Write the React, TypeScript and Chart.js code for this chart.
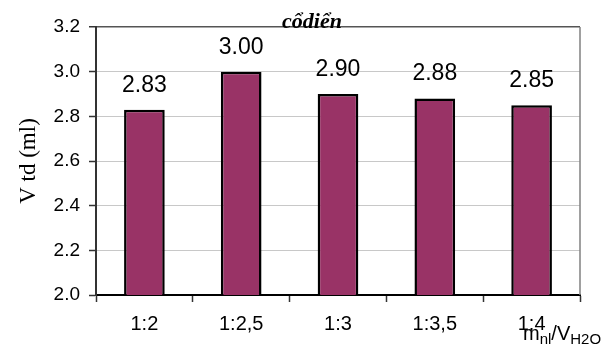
import React, { useEffect, useRef } from "react";
import { Chart, registerables } from "chart.js";

Chart.register(...registerables);

const categories = ["1:2", "1:2,5", "1:3", "1:3,5", "1:4"];
const values = [2.83, 3.0, 2.9, 2.88, 2.85];
const yTicks = [2.0, 2.2, 2.4, 2.6, 2.8, 3.0, 3.2];
const chartTitle = "cổdiển";
const yTitle = "V td (ml)";

const overlay = {
  id: "overlay",
  afterDraw(chart: any) {
    const { ctx, chartArea } = chart;
    ctx.save();
    // right border
    ctx.strokeStyle = "#808080";
    ctx.lineWidth = 1.5;
    ctx.beginPath();
    ctx.moveTo(chartArea.right, chartArea.top);
    ctx.lineTo(chartArea.right, chartArea.bottom);
    ctx.stroke();

    // data labels
    const meta = chart.getDatasetMeta(0);
    ctx.fillStyle = "#000";
    ctx.font = "23px 'Liberation Sans', Arial, sans-serif";
    ctx.textAlign = "center";
    ctx.textBaseline = "alphabetic";
    meta.data.forEach((bar: any, i: number) => {
      ctx.fillText(values[i].toFixed(2), bar.x, bar.y - 18);
    });

    // title
    ctx.font = "italic bold 22px 'Liberation Serif', 'Times New Roman', serif";
    ctx.fillText(chartTitle, 312, 28);

    // y title
    ctx.save();
    ctx.translate(29, (chartArea.top + chartArea.bottom) / 2);
    ctx.rotate(-Math.PI / 2);
    ctx.font = "23px 'Liberation Serif', 'Times New Roman', serif";
    ctx.textBaseline = "middle";
    ctx.fillText(yTitle, 0, 0);
    ctx.restore();

    // x title with subscripts
    ctx.textAlign = "left";
    const big = "20px 'Liberation Sans', Arial, sans-serif";
    const small = "15px 'Liberation Sans', Arial, sans-serif";
    const parts: [string, string, number][] = [
      ["m", big, 340],
      ["nl", small, 344],
      ["/V", big, 340],
      ["H2O", small, 344],
    ];
    let x = 523;
    for (const [t, f, b] of parts) {
      ctx.font = f;
      ctx.fillText(t, x, b);
      x += ctx.measureText(t).width;
    }
    ctx.restore();
  },
};

export default function App() {
  const ref = useRef<HTMLCanvasElement | null>(null);
  useEffect(() => {
    if (!ref.current) return;
    const chart = new Chart(ref.current, {
      type: "bar",
      data: {
        labels: categories,
        datasets: [
          {
            data: values,
            backgroundColor: "#993366",
            borderColor: "#000",
            borderWidth: 2.5,
            borderSkipped: false,
            barPercentage: 0.42,
            categoryPercentage: 1,
          },
        ],
      },
      options: {
        responsive: false,
        animation: false,
        devicePixelRatio: 1,
        layout: { padding: { left: 0, right: 32, top: 27, bottom: 0 } },
        plugins: {
          legend: { display: false },
          tooltip: { enabled: false },
          title: { display: false },
        },
        scales: {
          x: {
            grid: {
              drawOnChartArea: false,
              tickLength: 7,
              tickColor: "#333",
              tickWidth: 1.5,
            },
            border: { color: "#000", width: 2 },
            ticks: {
              color: "#000",
              font: { family: "'Liberation Sans', Arial, sans-serif", size: 20 },
              padding: 10,
            },
            afterFit(scale: any) {
              scale.height = 49;
            },
          },
          y: {
            min: 2.0,
            max: 3.2,
            afterBuildTicks(scale: any) {
              scale.ticks = yTicks.map((v) => ({ value: v }));
            },
            grid: {
              color: (c: any) => (c.tick && Math.abs(c.tick.value - 3.2) < 1e-6 ? "#555" : "#c8c8c8"),
              lineWidth: (c: any) => (c.tick && Math.abs(c.tick.value - 3.2) < 1e-6 ? 1.5 : 1),
              tickLength: 7,
              tickColor: "#333",
              tickWidth: 1.5,
            },
            border: { color: "#333", width: 2 },
            ticks: {
              color: "#000",
              font: { family: "'Liberation Sans', Arial, sans-serif", size: 19 },
              padding: 9,
              callback: (v: any) => Number(v).toFixed(1),
            },
            afterFit(scale: any) {
              scale.width = 96;
            },
          },
        },
      },
      plugins: [overlay],
    });
    return () => chart.destroy();
  }, []);
  return (
    <div style={{ position: "absolute", left: 0, top: 0, width: 612, height: 344, background: "#fff" }}>
      <canvas ref={ref} width={612} height={344} />
    </div>
  );
}
